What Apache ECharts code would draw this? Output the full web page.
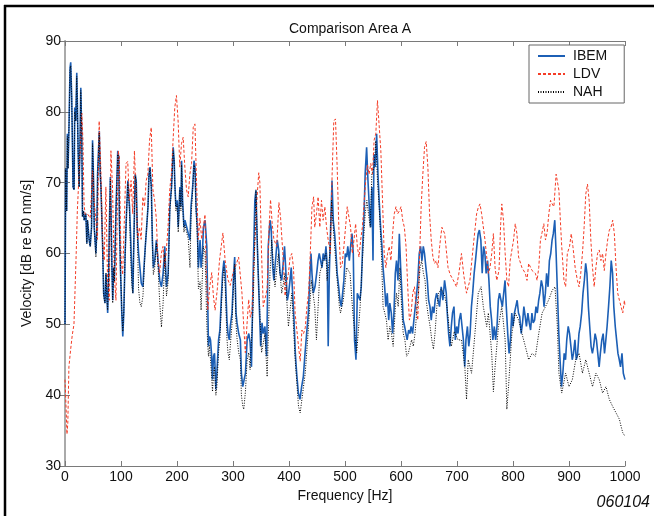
<!DOCTYPE html>
<html><head><meta charset="utf-8">
<script src="https://cdn.jsdelivr.net/npm/echarts@6/dist/echarts.min.js"></script>
<style>html,body{margin:0;padding:0;background:#fff}#c{width:654px;height:516px}</style>
</head><body><div id="c"></div><script>
const chartTitle = 'Comparison Area A';
const xName = 'Frequency [Hz]';
const yName = 'Velocity [dB re 50 nm/s]';
const stamp = '060104';
const seriesNames = ['IBEM', 'LDV', 'NAH'];

const ibemFreq = [0,1.2,3,4.2,5.4,7.2,9,10.2,12,14.4,16.2,17.4,19.2,21,22.2,23.4,25.2,27,28.2,30,31.2,33,34.2,37.2,39,40.2,43.2,45,47.4,49.2,51,52.2,55.2,57,58.2,61.2,63,64.2,67.2,69,71.4,73.2,75,76.2,78,79.2,81,82.2,84,85.2,87,88.2,91.2,94.2,96,97.2,99,101.4,103.2,105,107.4,109.8,112.2,115.2,117,119.4,121.2,123,125.4,127.2,129,131.4,133.8,136.2,139.2,141,143.4,145.8,148.2,150,151.8,154.2,156,157.8,160.2,163.2,166.2,169.2,172.2,175.2,178.2,181.2,184.2,187.2,190.2,193.2,195,196.2,198,200.4,202.2,205.2,207,208.2,210,212.4,214.2,217.2,220.2,223.2,225,228,230.4,232.2,234,236.4,238.2,241.2,243,245.4,247.2,250.2,253.2,255,256.2,258,259.8,261.6,263.4,265.2,267,269.4,271.2,274.2,276.6,279,281.4,283.8,286.2,289.2,291,293.4,295.2,298.2,301.2,303,305.4,307.2,310.2,313.2,315,317.4,319.2,322.2,325.2,328.2,330.5,333,336,339,341,343.5,347,349.4,351.8,354,357,360,363,366,368,371,373,377,379,381.6,384,387,390,392,394.6,397,399.4,401.8,404,406.5,409,411.3,413.7,416.7,419.6,422.6,425.6,428.6,431.5,434.5,437.5,439.3,441,443.4,446.4,449.4,451.8,454,456.5,459,461,463.7,466,468.4,470,472,474.4,476.8,479,481.5,484,486,488.7,491,493.4,495.8,498,500.6,503,505,507.7,510,512.5,514.8,517,519.6,522,524,526.7,529,531.5,534,536,538.6,541,543.4,545.8,548,550,551.7,554,556.5,558.9,561,563.6,566,568,570.8,573,575.5,578,580,582.7,585,587.4,589.8,592,594.6,597,599.4,601.7,604,606.5,608.8,611,613.6,616,618,620.7,623,625.5,628,630,632.6,635,637.4,639.8,642,644.5,647,649.3,651.7,654,656.4,658.8,661,663.6,666,668.8,671.8,674.8,677.8,680.8,682.6,685,687.4,689.8,692,694.6,697,699.4,701.8,704,706.6,709,711.4,713.8,716,718.6,721,723.4,725.8,728,730.6,733,735.4,737.8,740,742.6,745,747.4,749.8,752,754.6,757,759.4,761.8,764,766.6,769,771.4,773.8,776,778.6,781,783.4,785.8,788,790.6,793,795.4,797.8,800,802.6,805,807.4,809.8,812,814.6,817,819.4,821.8,824,826.6,829,831.4,833.8,836,838.6,841,843.4,845.8,848,850.6,853,855.4,857.8,860,862.6,865,867.4,869.8,872,874.6,877,879.4,881.8,884,886.6,889,891.4,893.8,896,898.6,901,903.4,905.8,908,910.6,913,915.4,917.8,920,922.6,925,927.4,929.8,932,934.6,937,939.4,941.8,944,946.6,949,951.4,953.8,956,958.6,961,963.4,965.8,968,970.6,973,975.4,977.8,980,982.6,985,987.4,989.8,992,994.6,997,1000];
const ibemVel = [50,72,66,76.9,72,78.3,86.2,87,82,69.4,69,80.6,78.7,85.5,80.6,74.5,69.4,76.4,83.4,76.4,65.2,66,64.7,65.6,61.4,64.7,61.9,61,63.7,76,70.3,63.7,60,63.7,71.2,77.3,71.2,69.4,61,54.4,53,57.2,53.4,51.6,57.2,63.7,70.8,65.6,57.2,53.4,58,56.2,66.6,74.5,73.6,64.7,58,51.6,48.3,51.6,60,65.6,70.3,66.6,62.8,57.2,54.4,61.9,71.2,70.3,63.7,60,58,55.8,55.3,58,61,63.7,66.6,71.2,72.2,69.4,61.9,58,59,61.9,59,56.2,55.3,57.2,61,55.3,57.2,66.6,69.4,75,73.1,69.8,66.6,67.5,63.7,69.4,66.6,73.1,67.5,63.7,64.7,64.7,62.8,61.9,66.6,69.4,73.1,72.2,66.6,63.7,58,61.9,58,60,63.7,64.7,61,52.5,46.9,48.3,47.8,45.9,42.2,45.5,45.9,40.8,43.1,47.8,49.2,53.4,57.2,59,57.2,50.6,48.7,47.8,49.7,51.6,57.2,59.5,51.6,50.2,48.7,47.8,43.1,41.2,41.2,43.1,47.8,48.7,47.5,44,57.2,67.5,68.9,61,52.5,46.9,50.2,48.7,49.7,45.5,61,64.7,63.7,58,56.2,60,61.9,60.5,57.2,56.2,59,61,57.2,53.4,54.4,56.2,58,54.4,50.6,45.9,43.1,40.3,39.4,41.2,42.6,45.9,48.7,51.6,57.2,60,57.2,54.4,55.3,57.2,59,60,59,58,60,59,61,58,46.9,57.2,63.7,70.3,64.7,62.8,60,57.2,55.3,53.4,52.5,54.4,56.2,60,59.5,61,59,61,62.8,60,47.8,45,54.4,54.4,53.4,55.3,61,65.6,71.2,75,70.3,66.6,63.7,69.4,59,74,72.2,76.9,71.2,67.5,63.7,61,58,55.3,52.5,54.4,50.6,53,51.6,48.7,51.6,57.2,59,56.2,62.8,58,54.4,50.6,49.7,48.7,47.8,49.2,48.7,49.7,48.7,50.6,52.5,54.4,56.2,60,61,59,61,60,58,56.2,53.4,52.5,50.6,52.5,51.6,53.4,54.4,54.6,52.5,55.3,53.4,56.2,54.4,51.6,48.7,46.9,49.7,51.6,52.5,47.8,49.7,48.7,50.6,51.6,49.7,47.8,44,47.8,49.7,46.9,48.7,52.5,54.4,57.2,59,61,62.8,63.3,61.9,57.2,61,60,57.2,59,56.2,52.5,50.6,47.8,49.7,47.8,49.7,53.4,54.4,53.4,52.5,54.4,56.2,52.5,48.7,45.9,47.8,51.6,49.7,51.6,52.5,53.4,51.6,51.1,48.7,50.2,52.5,51.1,49.7,51.6,50.2,49.2,51.6,50.2,50.6,52.5,51.6,53.4,54.4,56.2,55.3,52.5,54.4,57.2,55.3,59,60,61.9,62.8,64.7,60,54.4,48.7,45,41.2,43.1,45.9,45,47.8,49.7,48.7,46.9,45,45.9,47.8,45,45.9,48.7,49.7,51.6,54.4,56.2,58.6,57.2,52.5,49.7,46.9,45.9,46.9,48.7,47.8,45.9,44,45.9,47.8,48.7,45.9,47.8,49.7,52.5,55.3,59,57.2,52.5,49.7,47.8,45.9,45,44,45.9,43.1,42.2];

const ldvFreq = [0,2,3.5,5,7,10,13,16,18,20,22,25,28,30,32,34,36,40,45,47,49,52,55,58,61,64,67,70,73,76,79,82,85,88,91,95,97,100,103,109,112,115,118,121,124,127,130,133,136,139,142,145,148,151,154,157,160,163,166,169,172,175,178,181,184,187,190,193,196,199,202,205,208,211,214,217,220,223,226,229,232,235,238,241,244,247,250,252,255,258,262,265,268,272,276,279,282,286,291,295,301,306,310,316,319,322,325,328,331,334,337,340,343,346,348,351,354,357,361,364,367,370,373,378,382,385,389,393,396,399,402,405,408,411,414,417,420,423,426,429,432,435,438,441,444,446,449,452,455,458,461,464,467,470,474,477,480,483,486,489,492,495,498,501,504,507,510,513,516,519,522,525,528,531,534,537,540,543,546,549,552,555,558,561,564,567,570,573,576,579,582,585,588,591,594,597,600,603,606,609,612,615,618,621,624,627,630,633,636,639,642,645,648,651,654,657,660,663,666,669,673,678,684,688,691,695,699,703,708,712,717,723,729,735,738,741,744,750,756,759,762,765,768,771,775,778,780,783,786,789,792,795,798,801,804,807,810,816,822,825,828,834,840,843,846,849,852,855,858,861,864,867,870,873,877,879,882,885,887,891,894,897,901,904,907,911,915,918,921,924,927,930,933,936,939,942,945,948,951,954,957,960,963,966,969,972,975,978,981,984,987,990,993,996,999,1000];
const ldvVel = [42.2,38,34.5,36,44,46.4,48.5,50,55,60,66,71,76,79.8,76,67,65.5,65.6,65,68,71.7,67.5,67.5,62,78.7,72,62,59,69.4,56,53.4,74.5,69,57,53.4,74.5,73.6,59.5,57,72.7,73,67.5,70.3,65.6,74.5,68,62,63.7,62,68,66.6,70.3,71.2,76,77.8,69,67.5,65,59,57.2,60,61,58,60.5,63.7,69,71.2,76,80.6,82.3,78.7,72.2,75.5,76.4,72.2,69,68,71.2,72.7,77.8,78.3,69.8,62,65,62,63.7,65.5,58,52,55,57.3,54,52,55,59.1,61,62.9,59,56.3,55.5,57.6,58.5,59.5,54.4,50,46,50,53.5,51,52,58,63,68,71.4,70,60,52.5,52.5,55,63,67.6,64.2,62,61,67.2,65,60,54,56,57.2,59.5,60,58,51.5,49.2,46.9,44.8,49.2,48.7,49.5,52.5,54.4,60,66.6,68,63.7,65.6,68,63.7,67.5,64.7,66.6,63.7,61.9,60,71.2,78.7,79,72.2,63.7,58,58.5,61,63.7,66.6,66.6,63.7,60,61.9,64.2,61,59.5,61.9,63.7,67,70.3,72.5,71.2,72.7,71.2,76,76.9,81.6,81.8,74.5,67.5,60,58,60,61,59,62.8,65.6,66.6,65.6,66,66.6,64.7,63.7,61,55.3,50.6,51.5,54.4,55.3,52.5,50.6,59,66.6,71.2,75,75.8,72.2,65.6,61.9,59.5,58.6,59,58,61,63.7,62.8,58,57,57.2,56,55.3,57,60,57,54.4,56.2,61,65.6,66.5,67,65.6,61.9,57.2,58,60,62.8,58,56.2,57.6,64.2,67,64.7,60,56.2,55.3,59,60.5,61.9,64.2,62.8,59.5,58,57.2,56.2,58.6,57.6,57.2,56.2,58,61.9,63,64.2,61.9,63,65.6,67.5,67,66.6,71.2,71,68.9,64,61,56.2,55.3,60,61,62.8,61,58,56.2,55.3,57.2,60,63.7,68.4,69.8,67.5,61.9,58,55.3,58,60,60.5,59,60,57.6,60,61.9,63.3,63.7,64.7,62.8,58,54.4,53.4,52.5,51.6,53.4,52.5];

const nahFreq = [0,1.2,3,4.2,5.4,7.2,9,10.2,12,14.4,16.2,17.4,19.2,21,22.2,23.4,25.2,27,28.2,30,31.2,33,34.2,37.2,39,40.2,43.2,45,47.4,49.2,51,52.2,55.2,57,58.2,61.2,63,64.2,67.2,69,71.4,73.2,75,76.2,78,79.2,81,82.2,84,85.2,87,88.2,91.2,94.2,96,97.2,99,101.4,103.2,105,107.4,109.8,112.2,115.2,117,119.4,121.2,123,125.4,127.2,129,131.4,133.8,136.2,139.2,141,143.4,145.8,148.2,150,151.8,154.2,156,157.8,160.2,163.2,166.2,169.2,172.2,175.2,178.2,181.2,184.2,187.2,190.2,193.2,195,196.2,198,200.4,202.2,205.2,207,208.2,210,212.4,214.2,217.2,220.2,223.2,225,228,230.4,232.2,234,236.4,238.2,241.2,243,245.4,247.2,250.2,253.2,255,256.2,258,259.8,261.6,263.4,265.2,267,269.4,271.2,274.2,276.6,279,281.4,283.8,286.2,289.2,291,293.4,295.2,298.2,301.2,303,305.4,307.2,310.2,313.2,315,317.4,319.2,322.2,325.2,328.2,330.5,336,341,345,351,357,361,366,369,375,381,387,393,399,405,411,417,420,423,429,434,440,446,449,455,461,466,468,473,476,479,485,490,492,497,503,509,514,521,527,531,536,539,542,545,548,552,555,558,561,565,568,571,574,577,580,583,586,590,592,595,598,601,604,607,610,613,616,619,622,625,628,631,634,637,640,643,645,648,652,655,658,661,664,667,672,678,682,687,690,695,702,708,714,717,720,726,732,738,743,747,753,756,762,765,768,774,780,786,789,792,798,804,810,816,822,828,834,840,846,852,858,864,870,875,879,882,887,894,900,906,912,918,924,930,936,942,948,954,960,966,972,978,984,990,993,996,1000];
const nahVel = [50,72,66,76.5,72,78,86,86.5,82,69.4,69,80,78.7,85,80.6,74.5,69.4,76.4,83,76.4,65.2,66,64.7,65.6,61.4,64.7,61.9,61,63.7,75.5,70.3,63.7,59.5,63.7,71,77,71.2,69.4,61,54,53,57.2,53.4,52,57,63.7,70.5,65.6,57.2,53,58,56,66.6,74,73.6,64.7,58,52,49,51.6,60,65.6,70,66,60,55.5,54.4,61.9,71,70,63,55,53,52.5,54,57,61,63.7,66.6,71,72,69,61.5,57,58,61.5,58,53,49.6,53,60,54,56,66,69,74.5,73,69.5,66,67,63,69,66,72.5,67,63,64,64,62,58,65,69,72.5,71.5,66,62,55,56,52,57,61,60,50,47,45.5,47,45,43,40.5,43,44,40,41.2,46,48,52,56,58,55,48,46,45,47,50,56,58.5,50,48,46,45,40,38.5,38,40.5,45,46,43.6,52.5,69,57.2,46,48.7,42.6,57.2,61.9,55.3,60,54.4,57.2,49.7,54.4,45,38.4,37.5,39.4,43.1,48.7,56.2,52.5,47.8,57.2,59,60,56.2,60,67.5,63.7,57.2,52.5,51.6,53.4,58,57.2,51.6,46,52.5,59,65.6,67.5,65.6,63.7,71.2,72.2,75.9,70.3,66.6,60,52.5,51.6,50.6,47.8,49.7,48.7,46.9,52.5,54.4,52.5,58,52.5,48.7,47.8,45.5,45.9,46.9,47.8,46.9,48.7,51.6,54.4,58,59,57.2,56.2,53.4,51.6,49.7,47.8,46.5,49,52.5,54.4,55,54,52.5,48.7,46.9,49,47.8,47.8,44,39.4,45,43.1,48.7,54.4,55.3,52.5,49.7,51.6,45.9,40.5,44,49.7,52.5,47.8,38,41.2,48.7,51.6,50.6,48.7,46.9,45,45.9,45.5,48.7,51.6,52.5,53.5,54.8,55.3,50,43.1,40.3,43.1,41.2,42.2,45,45.9,43.1,45,43.1,41.2,43.1,42.2,40.3,41.2,39.4,38.4,37.5,36.6,35.6,34.7,34.2];

const pairs = (f, v) => f.map((x, i) => [x, v[i]]);
const FONT = 'Liberation Sans, Arial, Helvetica, sans-serif';
const axisGray = '#7a7a7a';
const plain = v => String(v);

const chart = echarts.init(document.getElementById('c'), null, {renderer: 'canvas'});
chart.setOption({
  animation: false,
  backgroundColor: '#fff',
  title: {
    text: chartTitle, left: 284, top: 17,
    textStyle: {fontSize: 14, fontWeight: 'normal', color: '#111', fontFamily: FONT}
  },
  grid: {left: 65, right: 29, top: 41, bottom: 50},
  legend: {
    data: seriesNames, orient: 'vertical', left: 529, top: 45,
    padding: [4, 17, 4, 8], itemGap: 4, itemWidth: 27, itemHeight: 14,
    backgroundColor: '#fff', borderColor: '#666', borderWidth: 1,
    itemStyle: {opacity: 0},
    textStyle: {fontSize: 14, color: '#111', fontFamily: FONT, padding: [0, 0, 0, 3]}
  },
  xAxis: [
    {type: 'value', min: 0, max: 1000, interval: 100, position: 'bottom',
     name: xName, nameLocation: 'middle', nameGap: 22,
     nameTextStyle: {fontSize: 14, color: '#111', fontFamily: FONT},
     axisLine: {show: true, lineStyle: {color: axisGray, width: 1}},
     axisTick: {show: true, inside: true, length: 5, lineStyle: {color: axisGray}},
     axisLabel: {fontSize: 14, color: '#111', margin: 4, fontFamily: FONT, formatter: plain},
     splitLine: {show: false}},
    {type: 'value', min: 0, max: 1000, interval: 100, position: 'top',
     axisLine: {show: true, lineStyle: {color: axisGray, width: 1}},
     axisTick: {show: true, inside: true, length: 5, lineStyle: {color: axisGray}},
     axisLabel: {show: false}, splitLine: {show: false}}
  ],
  yAxis: [
    {type: 'value', min: 30, max: 90, interval: 10, position: 'left',
     name: yName, nameLocation: 'middle', nameGap: 31,
     nameTextStyle: {fontSize: 14, color: '#111', fontFamily: FONT},
     axisLine: {show: true, lineStyle: {color: axisGray, width: 1}},
     axisTick: {show: true, inside: true, length: 5, lineStyle: {color: axisGray}},
     axisLabel: {fontSize: 14, color: '#111', margin: 4, fontFamily: FONT, formatter: plain},
     splitLine: {show: false}},
    {type: 'value', min: 30, max: 90, interval: 10, position: 'right',
     axisLine: {show: true, lineStyle: {color: '#aaa', width: 2}},
     axisTick: {show: true, inside: true, length: 5, lineStyle: {color: axisGray}},
     axisLabel: {show: false}, splitLine: {show: false}}
  ],
  series: [
    {name: seriesNames[0], type: 'line', data: pairs(ibemFreq, ibemVel), symbol: 'none',
     lineStyle: {color: '#1c5fb5', width: 1.6}, itemStyle: {color: '#1c5fb5'}, z: 2},
    {name: seriesNames[1], type: 'line', data: pairs(ldvFreq, ldvVel), symbol: 'none',
     lineStyle: {color: '#f43c26', width: 1, type: [3, 2]}, itemStyle: {color: '#f43c26'}, z: 3},
    {name: seriesNames[2], type: 'line', data: pairs(nahFreq, nahVel), symbol: 'none',
     lineStyle: {color: '#000', width: 1, type: [1, 1.5]}, itemStyle: {color: '#000'}, z: 4}
  ],
  graphic: [
    {type: 'line', shape: {x1: 4, y1: 6, x2: 654, y2: 6}, style: {stroke: '#000', lineWidth: 2.5}, silent: true},
    {type: 'line', shape: {x1: 5, y1: 5, x2: 5, y2: 516}, style: {stroke: '#000', lineWidth: 2.5}, silent: true},
    {type: 'text', right: 4, top: 495, style: {text: stamp, font: 'italic 16px ' + FONT, fill: '#111'}}
  ]
});
</script></body></html>
